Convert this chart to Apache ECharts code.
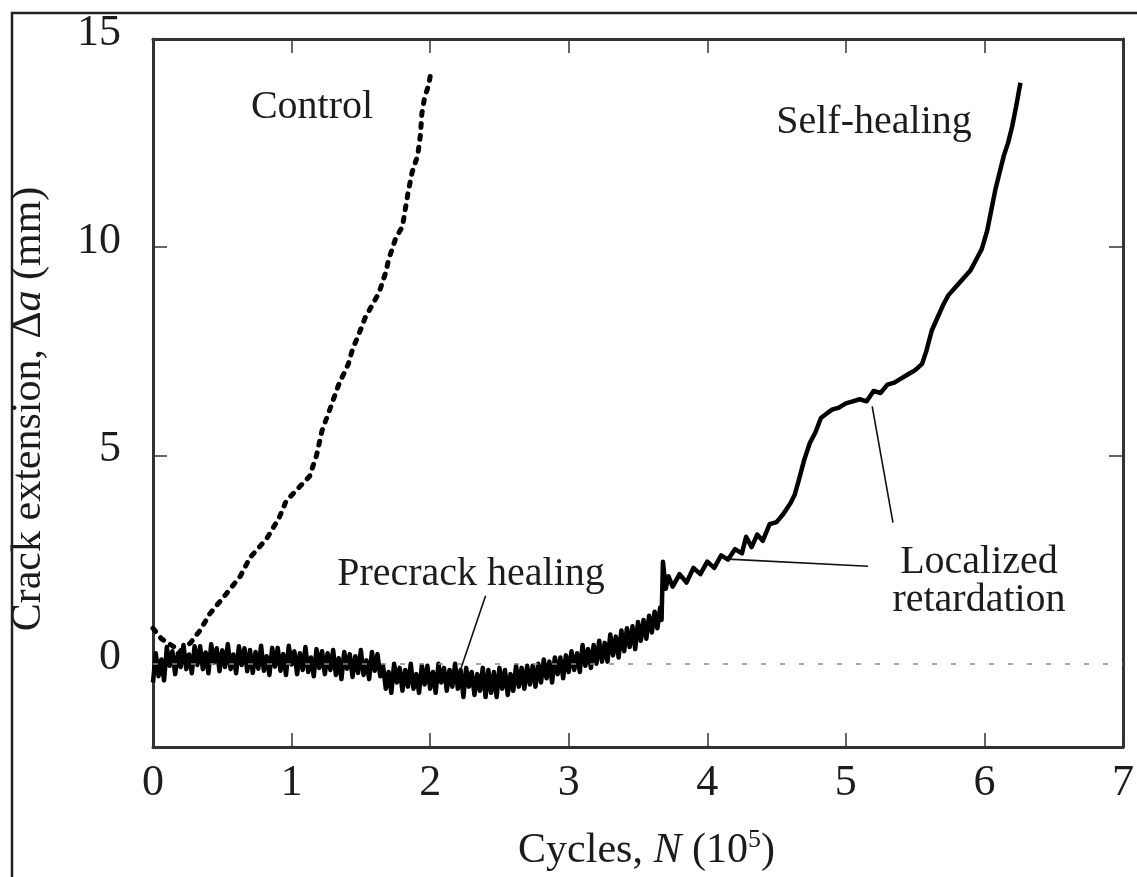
<!DOCTYPE html>
<html>
<head>
<meta charset="utf-8">
<script src="https://cdn.jsdelivr.net/npm/echarts@6/dist/echarts.min.js"></script>
<style>
  html, body { margin: 0; padding: 0; background: #fff; }
  #chart { width: 1137px; height: 877px; }
</style>
</head>
<body>
<div id="chart"></div>
<script>
// ---- data: [N (10^5 cycles), crack extension (mm)] ----
const xTicks = [0, 1, 2, 3, 4, 5, 6, 7];
const yTicks = [0, 5, 10, 15];

const controlData = [
  [0, 0.85], [0.06, 0.6], [0.2, 0.3], [0.27, 0.5], [0.34, 0.8], [0.41, 1.2],
  [0.51, 1.6], [0.63, 2.1], [0.7, 2.55], [0.82, 3.0], [0.91, 3.5], [0.96, 3.9],
  [1.03, 4.15], [1.13, 4.5], [1.18, 5.0], [1.22, 5.6], [1.27, 6.05], [1.34, 6.7],
  [1.41, 7.2], [1.44, 7.55], [1.49, 7.95], [1.53, 8.3], [1.58, 8.6], [1.63, 8.9],
  [1.68, 9.4], [1.7, 9.7], [1.75, 10.2], [1.8, 10.5], [1.82, 10.9], [1.84, 11.3],
  [1.87, 11.8], [1.91, 12.2], [1.93, 12.7], [1.94, 13.2], [1.96, 13.6], [1.99, 13.9],
  [2.0, 14.1]
];

// noisy band before the precrack is passed (0 – 3.67)
const selfHealingEarly = [
  [0.00, -0.45], [0.02, 0.25], [0.04, -0.30], [0.06, 0.10], [0.08, -0.40], [0.10, 0.40],
  [0.12, -0.05], [0.14, 0.30], [0.16, -0.25], [0.18, 0.25], [0.20, -0.08], [0.22, 0.45],
  [0.24, -0.13], [0.26, 0.22], [0.28, -0.23], [0.30, 0.42], [0.32, -0.03], [0.34, 0.42],
  [0.36, -0.13], [0.38, 0.27], [0.40, -0.23], [0.42, 0.47], [0.44, 0.02], [0.46, 0.37],
  [0.48, -0.18], [0.50, 0.32], [0.52, -0.08], [0.54, 0.47], [0.56, -0.13], [0.58, 0.22],
  [0.60, -0.23], [0.62, 0.42], [0.64, -0.03], [0.66, 0.37], [0.68, -0.18], [0.70, 0.33],
  [0.72, -0.22], [0.74, 0.28], [0.76, -0.12], [0.78, 0.43], [0.80, -0.17], [0.82, 0.18],
  [0.84, -0.27], [0.86, 0.38], [0.88, -0.07], [0.90, 0.38], [0.92, -0.17], [0.94, 0.23],
  [0.96, -0.27], [0.98, 0.43], [1.00, -0.02], [1.02, 0.30], [1.04, -0.25], [1.06, 0.25],
  [1.08, -0.15], [1.10, 0.40], [1.12, -0.20], [1.14, 0.15], [1.16, -0.30], [1.18, 0.35],
  [1.20, -0.10], [1.22, 0.30], [1.24, -0.25], [1.26, 0.25], [1.28, -0.15], [1.30, 0.33],
  [1.32, -0.27], [1.34, 0.13], [1.36, -0.37], [1.38, 0.28], [1.40, -0.12], [1.42, 0.23],
  [1.44, -0.32], [1.46, 0.18], [1.48, -0.22], [1.50, 0.33], [1.52, -0.27], [1.54, 0.08],
  [1.56, -0.37], [1.58, 0.28], [1.60, -0.17], [1.62, 0.23], [1.64, -0.30], [1.66, -0.05],
  [1.68, -0.60], [1.70, -0.20], [1.72, -0.70], [1.74, 0.00], [1.76, -0.45], [1.78, -0.10],
  [1.80, -0.65], [1.82, -0.15], [1.84, -0.55], [1.86, 0.00], [1.88, -0.60], [1.90, -0.25],
  [1.92, -0.70], [1.94, -0.05], [1.96, -0.50], [1.98, -0.05], [2.00, -0.60], [2.02, -0.20],
  [2.04, -0.70], [2.06, 0.00], [2.08, -0.45], [2.10, -0.10], [2.12, -0.65], [2.14, -0.15],
  [2.16, -0.55], [2.18, 0.00], [2.20, -0.60], [2.22, -0.15], [2.24, -0.80], [2.26, -0.10],
  [2.28, -0.55], [2.30, -0.20], [2.32, -0.75], [2.34, -0.25], [2.36, -0.65], [2.38, -0.10],
  [2.40, -0.80], [2.42, -0.15], [2.44, -0.70], [2.46, -0.20], [2.48, -0.80], [2.50, -0.10],
  [2.52, -0.60], [2.54, -0.15], [2.56, -0.75], [2.58, -0.25], [2.60, -0.65], [2.62, -0.05],
  [2.64, -0.55], [2.66, -0.10], [2.68, -0.60], [2.70, -0.05], [2.72, -0.50], [2.74, -0.05],
  [2.76, -0.55], [2.78, 0.00], [2.80, -0.45], [2.82, 0.10], [2.84, -0.35], [2.86, 0.05],
  [2.88, -0.45], [2.90, 0.15], [2.92, -0.25], [2.94, 0.15], [2.96, -0.35], [2.98, 0.20],
  [3.00, -0.20], [3.02, 0.30], [3.04, -0.15], [3.06, 0.25], [3.08, -0.20], [3.10, 0.45],
  [3.12, -0.05], [3.14, 0.35], [3.16, -0.10], [3.18, 0.45], [3.20, 0.00], [3.22, 0.55],
  [3.24, 0.05], [3.26, 0.50], [3.28, 0.05], [3.30, 0.70], [3.32, 0.20], [3.34, 0.65],
  [3.36, 0.15], [3.38, 0.80], [3.40, 0.30], [3.42, 0.85], [3.44, 0.40], [3.46, 0.90],
  [3.48, 0.35], [3.50, 1.00], [3.52, 0.55], [3.54, 1.05], [3.56, 0.60], [3.58, 1.15],
  [3.60, 0.75], [3.62, 1.25], [3.64, 0.85], [3.66, 1.35], [3.67, 1.05]
];

// after the jump at ~3.68
const selfHealingLate = [
  [3.68, 2.45], [3.70, 1.80], [3.72, 2.10], [3.75, 1.85], [3.80, 2.15], [3.85, 1.95],
  [3.90, 2.30], [3.95, 2.15], [4.00, 2.45], [4.05, 2.30], [4.10, 2.60], [4.15, 2.50],
  [4.20, 2.75], [4.25, 2.65], [4.28, 3.05], [4.32, 2.80], [4.36, 3.10], [4.40, 2.95],
  [4.45, 3.35], [4.50, 3.40], [4.55, 3.60], [4.60, 3.85], [4.63, 4.05], [4.66, 4.40],
  [4.70, 4.90], [4.74, 5.30], [4.78, 5.55], [4.82, 5.90], [4.86, 6.00], [4.90, 6.10],
  [4.95, 6.15], [5.00, 6.25], [5.05, 6.30], [5.10, 6.35], [5.15, 6.30], [5.20, 6.55],
  [5.25, 6.50], [5.30, 6.70], [5.35, 6.75], [5.40, 6.85], [5.45, 6.95], [5.50, 7.05],
  [5.55, 7.20], [5.58, 7.50], [5.62, 8.00], [5.66, 8.30], [5.70, 8.60], [5.74, 8.85],
  [5.78, 9.00], [5.82, 9.15], [5.86, 9.30], [5.90, 9.45], [5.94, 9.70], [5.98, 9.95],
  [6.02, 10.40], [6.05, 10.90], [6.08, 11.40], [6.11, 11.80], [6.14, 12.20], [6.17, 12.50],
  [6.20, 12.90], [6.23, 13.40], [6.26, 13.95]
];

// leader lines from annotations to the curve
const leaderLines = [
  [[2.40, 1.63], [2.22, -0.14]],   // Precrack healing
  [[4.15, 2.51], [5.16, 2.34]],    // Localized retardation (lower)
  [[5.19, 6.18], [5.34, 3.39]]     // Localized retardation (upper)
];

const SERIF = '"Liberation Serif", "DejaVu Serif", serif';
const INK = "#1c1c1c";
const FRAME = "#333333";

const chart = echarts.init(document.getElementById("chart"), null, { renderer: "canvas" });

const frameLine = { show: true, onZero: false, lineStyle: { color: FRAME, width: 3 } };
const tickStyle = { color: FRAME, width: 1.5 };

const option = {
  backgroundColor: "#ffffff",
  animation: false,
  grid: { left: 152, right: 6, top: 39, bottom: 125, containLabel: false },
  xAxis: [
    {
      type: "value",
      min: 0,
      max: 7,
      interval: 1,
      position: "bottom",
      name: "{t|Cycles, }{i|N}{t| (10}{s|5}{t|)}",
      nameLocation: "middle",
      nameGap: 80,
      nameTextStyle: {
        padding: [0, 0, 0, 17],
        rich: {
          t: { fontFamily: SERIF, fontSize: 42, color: INK },
          i: { fontFamily: SERIF, fontSize: 42, color: INK, fontStyle: "italic" },
          s: { fontFamily: SERIF, fontSize: 26, color: INK, verticalAlign: "top", padding: [0, 0, 22, 0] },
        },
      },
      axisLine: frameLine,
      axisTick: { show: true, inside: true, length: 14, lineStyle: tickStyle },
      axisLabel: { show: true, margin: 14, fontFamily: SERIF, fontSize: 44, color: INK, showMinLabel: true, showMaxLabel: true },
      splitLine: { show: false },
    },
    {
      type: "value",
      min: 0,
      max: 7,
      interval: 1,
      position: "top",
      axisLine: frameLine,
      axisLabel: { show: false },
      splitLine: { show: false },
      axisTick: { show: true, inside: true, length: 14, lineStyle: tickStyle },
    },
  ],
  yAxis: [
    {
      type: "value",
      min: -2,
      max: 15,
      position: "left",
      name: "{t|Crack extension, Δ}{i|a}{t| (mm)}",
      nameLocation: "middle",
      nameGap: 103,
      nameRotate: 90,
      nameTextStyle: {
        padding: [0, 32, 0, 0],
        rich: {
          t: { fontFamily: SERIF, fontSize: 42, color: INK },
          i: { fontFamily: SERIF, fontSize: 42, color: INK, fontStyle: "italic" },
        },
      },
      axisLine: frameLine,
      axisTick: { show: true, inside: true, length: 14, customValues: yTicks, lineStyle: tickStyle },
      axisLabel: {
        show: true,
        customValues: yTicks,
        margin: 32,
        verticalAlign: "bottom",
        lineHeight: 12,
        fontFamily: SERIF,
        fontSize: 44,
        color: INK,
      },
      splitLine: { show: false },
    },
    {
      type: "value",
      min: -2,
      max: 15,
      position: "right",
      axisLine: frameLine,
      axisLabel: { show: false },
      splitLine: { show: false },
      axisTick: { show: true, inside: true, length: 14, customValues: [5, 10], lineStyle: tickStyle },
    },
  ],
  series: [
    {
      // zero reference line
      name: "zero",
      type: "line",
      data: [],
      z: 1,
      markLine: {
        silent: true,
        symbol: "none",
        label: { show: false },
        lineStyle: { color: "#8a8a8a", width: 1.5, type: [5, 14] },
        data: [{ yAxis: 0 }],
      },
    },
    {
      name: "Control",
      type: "line",
      data: controlData,
      showSymbol: false,
      z: 3,
      lineStyle: { color: "#000", width: 5, type: [4, 8], cap: "round" },
    },
    {
      name: "Self-healing",
      type: "line",
      data: selfHealingEarly.concat(selfHealingLate),
      showSymbol: false,
      z: 4,
      lineStyle: { color: "#000", width: 4.5, join: "round" },
    },
    {
      name: "leaders",
      type: "line",
      data: [],
      z: 5,
      markLine: {
        silent: true,
        symbol: "none",
        label: { show: false },
        lineStyle: { color: "#111", width: 1.6, type: "solid" },
        data: leaderLines.map((seg) => [{ coord: seg[0] }, { coord: seg[1] }]),
      },
    },
  ],
  graphic: [
    {
      // outer figure border
      type: "rect",
      shape: { x: 12, y: 13, width: 1200, height: 950 },
      style: { fill: "none", stroke: "#222", lineWidth: 2.5 },
      silent: true,
      z: 0,
    },
    {
      type: "text",
      x: 312,
      y: 107,
      style: { text: "Control", font: `40px ${SERIF}`, fill: INK, align: "center", verticalAlign: "middle" },
    },
    {
      type: "text",
      x: 874,
      y: 122,
      style: { text: "Self-healing", font: `40px ${SERIF}`, fill: INK, align: "center", verticalAlign: "middle" },
    },
    {
      type: "text",
      x: 471,
      y: 574,
      style: { text: "Precrack healing", font: `40px ${SERIF}`, fill: INK, align: "center", verticalAlign: "middle" },
    },
    {
      type: "text",
      x: 979,
      y: 581,
      style: {
        text: "Localized\nretardation",
        font: `40px ${SERIF}`,
        lineHeight: 38,
        fill: INK,
        align: "center",
        verticalAlign: "middle",
      },
    },
  ],
};

chart.setOption(option);
</script>
</body>
</html>
